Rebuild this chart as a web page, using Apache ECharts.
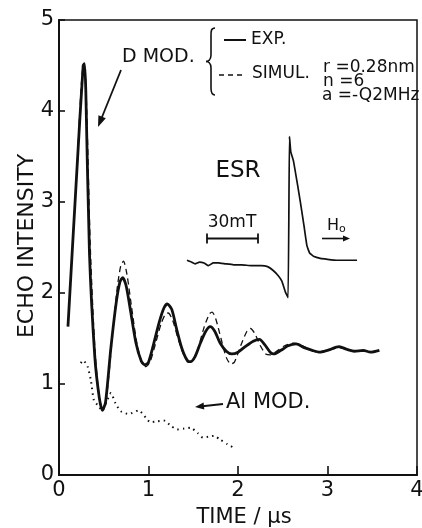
<!DOCTYPE html>
<html>
<head>
<meta charset="utf-8">
<script src="https://cdn.jsdelivr.net/npm/echarts@6/dist/echarts.min.js"></script>
<style>
html,body{margin:0;padding:0;background:#fff;}
#c{width:422px;height:528px;}
</style>
</head>
<body>
<div id="c"></div>
<script>
// ---- data (time in µs, echo intensity) ----
const expD = [
[0.10,1.63],[0.20,3.35],[0.27,4.50],[0.285,4.52],[0.30,4.20],[0.34,2.45],[0.40,1.30],[0.45,0.85],
[0.485,0.71],[0.52,0.80],[0.58,1.40],[0.64,1.90],[0.68,2.12],[0.71,2.17],[0.75,2.08],[0.80,1.80],
[0.86,1.45],[0.92,1.25],[0.96,1.21],[1.00,1.24],[1.06,1.45],[1.12,1.68],[1.17,1.83],[1.21,1.88],
[1.26,1.82],[1.32,1.58],[1.38,1.37],[1.44,1.25],[1.47,1.245],[1.52,1.30],[1.58,1.45],[1.64,1.58],
[1.69,1.63],[1.74,1.58],[1.80,1.45],[1.87,1.36],[1.93,1.33],[2.00,1.35],[2.08,1.41],[2.17,1.47],
[2.24,1.49],[2.30,1.43],[2.36,1.35],[2.40,1.33],[2.48,1.37],[2.56,1.42],[2.65,1.44],[2.74,1.40],
[2.83,1.37],[2.91,1.35],[3.00,1.37],[3.13,1.41],[3.22,1.38],[3.30,1.36],[3.40,1.37],[3.48,1.35],[3.58,1.37]
];
const simulD = [
[0.20,3.30],[0.27,4.48],[0.29,4.45],[0.31,4.00],[0.35,2.50],[0.40,1.40],[0.45,0.85],[0.49,0.72],
[0.53,0.85],[0.59,1.45],[0.65,2.05],[0.69,2.30],[0.72,2.35],[0.76,2.20],[0.81,1.85],[0.87,1.45],
[0.93,1.22],[0.97,1.19],[1.02,1.25],[1.08,1.45],[1.14,1.66],[1.19,1.77],[1.22,1.78],[1.27,1.70],
[1.33,1.50],[1.39,1.33],[1.45,1.24],[1.49,1.25],[1.55,1.38],[1.62,1.62],[1.68,1.77],[1.71,1.79],
[1.75,1.72],[1.81,1.50],[1.87,1.29],[1.92,1.22],[1.96,1.24],[2.03,1.42],[2.10,1.58],[2.14,1.61],
[2.19,1.55],[2.25,1.42],[2.31,1.33],[2.36,1.32],[2.43,1.36],[2.52,1.42],[2.62,1.45],[2.72,1.42],
[2.82,1.37],[2.92,1.35],[3.02,1.37],[3.12,1.40],[3.22,1.38],[3.32,1.36],[3.42,1.36],[3.55,1.35]
];
const alModD = [
[0.244,1.23],[0.27,1.26],[0.32,1.19],[0.356,1.04],[0.39,0.82],[0.43,0.77],[0.485,0.71],[0.53,0.80],
[0.58,0.90],[0.63,0.79],[0.69,0.70],[0.78,0.67],[0.89,0.71],[0.97,0.63],[1.02,0.58],[1.10,0.59],
[1.17,0.60],[1.25,0.54],[1.32,0.50],[1.40,0.51],[1.47,0.52],[1.55,0.46],[1.61,0.41],[1.67,0.42],
[1.73,0.43],[1.80,0.39],[1.88,0.34],[1.95,0.30]
];
const esrD = [
[1.43,2.36],[1.48,2.34],[1.52,2.32],[1.57,2.34],[1.62,2.33],[1.67,2.30],[1.72,2.33],[1.78,2.33],
[1.86,2.32],[1.95,2.31],[2.04,2.31],[2.15,2.30],[2.26,2.30],[2.33,2.29],[2.39,2.25],[2.45,2.19],
[2.49,2.13],[2.53,2.01],[2.56,1.95],[2.575,3.72],[2.59,3.55],[2.62,3.45],[2.66,3.22],[2.70,2.98],
[2.74,2.72],[2.77,2.52],[2.80,2.44],[2.85,2.40],[2.92,2.38],[3.00,2.37],[3.10,2.36],[3.33,2.36]
];
const xTickLabels = ['0','1','2','3','4'];
const yTickLabels = ['0','1','2','3','4','5'];

const FONT = 'DejaVu Sans';
const K = '#111';

function arrowHead(x1,y1,x2,y2,len,w){
  const dx=x2-x1, dy=y2-y1, L=Math.hypot(dx,dy), ux=dx/L, uy=dy/L;
  const bx=x2-ux*len, by=y2-uy*len;
  return {type:'polygon',shape:{points:[[x2,y2],[bx-uy*w,by+ux*w],[bx+uy*w,by-ux*w]]},style:{fill:K}};
}
function line(x1,y1,x2,y2,w,dash){
  return {type:'line',shape:{x1,y1,x2,y2},style:{stroke:K,lineWidth:w||1.6,lineDash:dash||null}};
}
function bez(x1,y1,cpx1,cpy1,cpx2,cpy2,x2,y2){
  return {type:'bezierCurve',shape:{x1,y1,x2,y2,cpx1,cpy1,cpx2,cpy2},style:{stroke:K,lineWidth:1.6,fill:null}};
}
function txt(x,y,t,size,align){
  return {type:'text',x,y,style:{text:t,font:size+'px "'+FONT+'"',fill:K,align:align||'left',verticalAlign:'middle'}};
}

const chart = echarts.init(document.getElementById('c'),null,{renderer:'canvas'});
chart.setOption({
  backgroundColor:'#fff',
  animation:false,
  grid:{left:59,right:5,top:20,bottom:53,show:true,borderColor:K,borderWidth:1.5,containLabel:false,outerBoundsMode:'none'},
  xAxis:{type:'value',min:0,max:4,interval:1,
    axisLine:{lineStyle:{color:K,width:2}},
    axisTick:{inside:true,length:9,lineStyle:{color:K,width:1.6}},
    axisLabel:{margin:5,fontSize:21,fontFamily:FONT,color:K,formatter:v=>xTickLabels[Math.round(v)]},
    splitLine:{show:false}},
  yAxis:{type:'value',min:0,max:5,interval:1,
    axisLine:{lineStyle:{color:K,width:2}},
    axisTick:{inside:true,length:6,lineStyle:{color:K,width:1.6}},
    axisLabel:{margin:5,fontSize:21,fontFamily:FONT,color:K,formatter:v=>yTickLabels[Math.round(v)]},
    splitLine:{show:false}},
  series:[
    {name:'EXP.',type:'line',data:expD,showSymbol:false,smooth:0.25,lineStyle:{color:K,width:2.8}},
    {name:'SIMUL.',type:'line',data:simulD,showSymbol:false,smooth:0.25,lineStyle:{color:K,width:1.3,type:[6,4]}},
    {name:'Al MOD.',type:'line',data:alModD,showSymbol:false,smooth:0.2,lineStyle:{color:K,width:2,type:[1.5,4]}},
    {name:'ESR',type:'line',data:esrD,showSymbol:false,smooth:0.1,lineStyle:{color:K,width:1.7}}
  ],
  graphic:[
    {type:'text',x:27,y:246,rotation:Math.PI/2,style:{text:'ECHO INTENSITY',font:'22px "'+FONT+'"',fill:K,align:'center',verticalAlign:'middle'}},
    txt(244,518,'TIME / μs',21,'center'),
    txt(122,57,'D MOD.',19),
    line(121,70,100,122,1.8),
    arrowHead(121,70,98,127,11,4),
    bez(215,28,211,28,211,31,211,36),
    line(211,36,211,55,1.6),
    bez(211,55,211,60,208,61.5,206,61.5),
    bez(206,61.5,208,61.5,211,63,211,68),
    line(211,68,211,88,1.6),
    bez(211,88,211,93,212,95,215,95),
    line(224,40,246,40,2),
    txt(251,40,'EXP.',17),
    line(219,75,243,75,1.6,[5,4]),
    txt(252,74,'SIMUL.',17),
    txt(323,68,'r =0.28nm',17),
    txt(323,82,'n =6',17),
    txt(322,96,'a =-Q2MHz',17),
    txt(238,171,'ESR',23,'center'),
    txt(232,223,'30mT',17,'center'),
    line(207,238.5,258,238.5,1.8),
    line(207,233.5,207,243.5,1.8),
    line(258,233.5,258,243.5,1.8),
    {type:'text',x:327,y:226,style:{text:'{h|H}{s|o}',rich:{h:{font:'16px "'+FONT+'"',fill:K},s:{font:'11px "'+FONT+'"',fill:K,padding:[6,0,0,0]}},verticalAlign:'middle'}},
    line(322,238.5,344,238.5,1.6),
    arrowHead(322,238.5,350,238.5,7,3),
    line(223,404,200,406.5,1.8),
    arrowHead(223,404,195,407,9,3.5),
    txt(226,403,'Al MOD.',21)
  ]
});
</script>
</body>
</html>
